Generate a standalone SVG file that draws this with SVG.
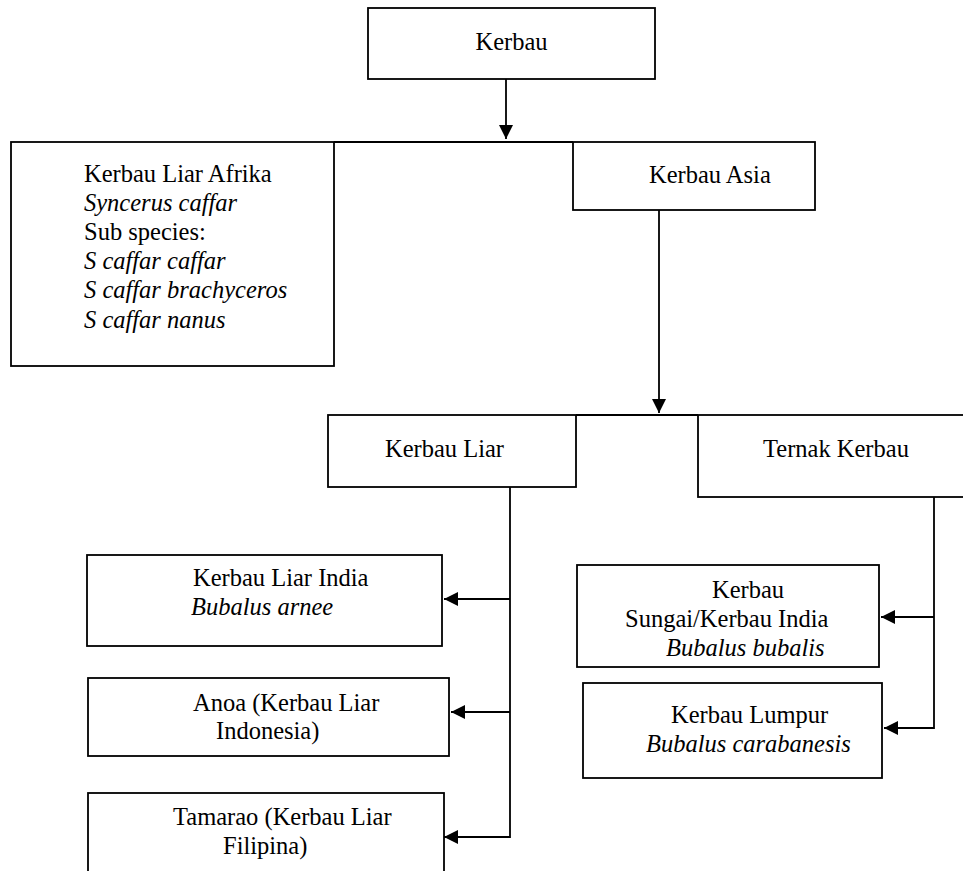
<svg xmlns="http://www.w3.org/2000/svg" width="963" height="871" viewBox="0 0 963 871">
<style>
.box{fill:#fff;stroke:#000;stroke-width:1.8}
.ln{fill:none;stroke:#000;stroke-width:1.8}
text{font-family:"Liberation Serif","Times New Roman",serif;font-size:24.5px;fill:#000}
.i{font-style:italic}
</style>
<defs>
<marker id="ah" markerUnits="userSpaceOnUse" markerWidth="14" markerHeight="14" refX="14" refY="7" orient="auto">
<path d="M0,0 L14,7 L0,14 z" fill="#000"/>
</marker>
</defs>
<rect width="963" height="871" fill="#fff"/>
<g id="n-kerbau"><rect class="box" x="368" y="8" width="287" height="71"/><text x="511.5" y="50" text-anchor="middle">Kerbau</text></g>
<g id="n-afrika"><rect class="box" x="11" y="142" width="323" height="224"/>
<text x="84" y="181.5">Kerbau Liar Afrika</text>
<text x="84" y="210.7" class="i">Syncerus caffar</text>
<text x="84" y="239.9">Sub species:</text>
<text x="84" y="269.1" class="i">S caffar caffar</text>
<text x="84" y="298.3" class="i">S caffar brachyceros</text>
<text x="84" y="327.5" class="i">S caffar nanus</text></g>
<g id="n-asia"><rect class="box" x="573" y="142" width="242" height="68"/><text x="649" y="183">Kerbau Asia</text></g>
<g id="n-liar"><rect class="box" x="328" y="415" width="248" height="72"/><text x="385" y="457">Kerbau Liar</text></g>
<g id="n-ternak"><rect class="box" x="698" y="415" width="280" height="82"/><text x="763" y="457">Ternak Kerbau</text></g>
<g id="n-india"><rect class="box" x="87" y="555" width="355" height="91"/><text x="193" y="586">Kerbau Liar India</text><text x="191" y="615" class="i">Bubalus arnee</text></g>
<g id="n-anoa"><rect class="box" x="88" y="678" width="361" height="78"/><text x="193" y="711">Anoa (Kerbau Liar</text><text x="216" y="739">Indonesia)</text></g>
<g id="n-tamarao"><rect class="box" x="88" y="793" width="356" height="90"/><text x="173" y="825">Tamarao (Kerbau Liar</text><text x="223" y="854">Filipina)</text></g>
<g id="n-sungai"><rect class="box" x="577" y="565" width="302" height="102"/><text x="712" y="598">Kerbau</text><text x="625" y="627">Sungai/Kerbau India</text><text x="666" y="656" class="i">Bubalus bubalis</text></g>
<g id="n-lumpur"><rect class="box" x="583" y="683" width="299" height="95"/><text x="671" y="723">Kerbau Lumpur</text><text x="646" y="752" class="i">Bubalus carabanesis</text></g>
<g id="connectors">
<line class="ln" x1="334" y1="142" x2="573" y2="142"/>
<line class="ln" x1="576" y1="415" x2="698" y2="415"/>
<line class="ln" x1="506" y1="79" x2="506" y2="139" marker-end="url(#ah)"/>
<line class="ln" x1="659" y1="210" x2="659" y2="413" marker-end="url(#ah)"/>
<polyline class="ln" points="510,487 510,837 444,837" marker-end="url(#ah)"/>
<line class="ln" x1="510" y1="599" x2="444" y2="599" marker-end="url(#ah)"/>
<line class="ln" x1="510" y1="712" x2="451" y2="712" marker-end="url(#ah)"/>
<polyline class="ln" points="934,497 934,728 884,728" marker-end="url(#ah)"/>
<line class="ln" x1="934" y1="617" x2="881" y2="617" marker-end="url(#ah)"/>
</g>
</svg>
